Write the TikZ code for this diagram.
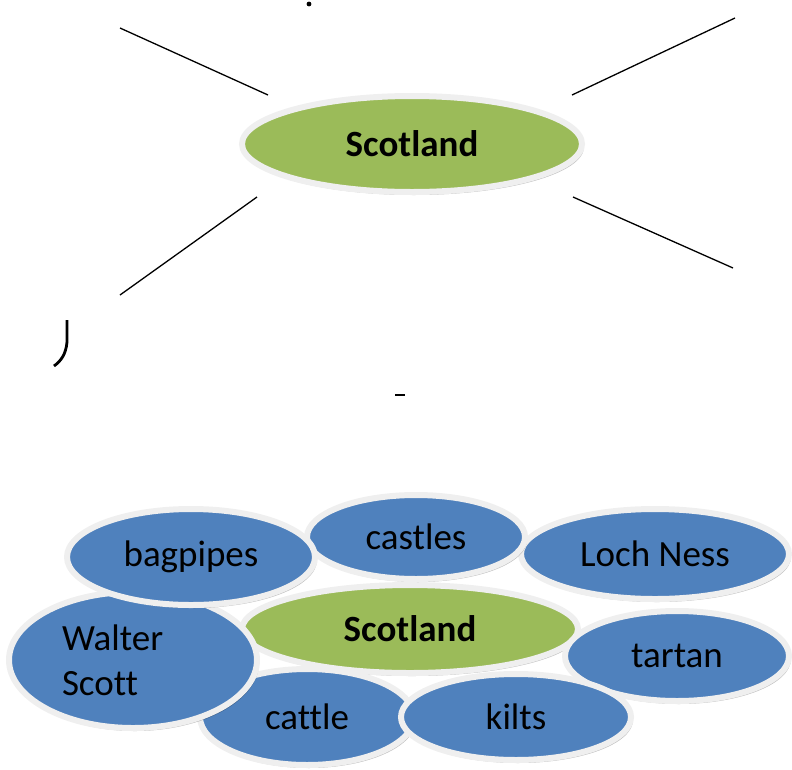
\documentclass[tikz,border=0pt]{standalone}
\usepackage{fontspec}
\setmainfont{Carlito}[Ligatures=NoCommon]
\usetikzlibrary{shapes.geometric,shadows}

\definecolor{bubbleblue}{HTML}{4F81BD}
\definecolor{bubblegreen}{HTML}{9BBB59}
\definecolor{rimgray}{HTML}{EFEFEF}

\begin{document}
\begin{tikzpicture}[x=1pt,y=-1pt,
    bubble/.style={ellipse, draw=rimgray, line width=6pt, inner sep=0pt,
        font=\fontsize{37}{45}\selectfont,
        drop shadow={shadow xshift=2pt, shadow yshift=-3pt, fill=black, opacity=0.25}},
    blue bubble/.style={bubble, fill=bubbleblue},
    green bubble/.style={bubble, fill=bubblegreen, font=\fontsize{37}{45}\selectfont\bfseries},
    spoke/.style={line width=1.3pt}]

    \useasboundingbox (0,0) rectangle (792,769);

    % upper picture
    \node[green bubble, minimum width=340pt, minimum height=96pt] (scot) at (412,144) {Scotland};
    \coordinate (tl1) at (120,28);  \coordinate (tl2) at (268,95);
    \coordinate (tr1) at (735,18);  \coordinate (tr2) at (572,95);
    \coordinate (bl1) at (120,295); \coordinate (bl2) at (257,197);
    \coordinate (br1) at (733,268); \coordinate (br2) at (573,197);
    \draw[spoke] (tl1) -- (tl2); % upper left
    \draw[spoke] (tr1) -- (tr2); % upper right
    \draw[spoke] (bl1) -- (bl2); % lower left
    \draw[spoke] (br1) -- (br2); % lower right

    % stray marks
    \fill (309,4) circle (2.4pt);
    \draw[line width=2.8pt] (67,320) -- (67,342) .. controls (66,354) and (61,361) .. (54,366);
    \draw[line width=2.2pt] (395,395) -- (405,395);

    % lower picture
    \node[green bubble, minimum width=336pt, minimum height=88pt] (center) at (410,629) {Scotland};
    \node[blue bubble, minimum width=214pt, minimum height=96pt] (cattle) at (307,717) {cattle};
    \node[blue bubble, minimum width=248pt, minimum height=136pt, text width=142pt, align=left] (walter) at (133,660) {Walter\\Scott};
    \node[blue bubble, minimum width=224pt, minimum height=90pt] (tartan) at (677,656) {tartan};
    \node[blue bubble, minimum width=268pt, minimum height=90pt] (lochness) at (655,554) {Loch Ness};
    \node[blue bubble, minimum width=218pt, minimum height=84pt] (castles) at (416,537) {castles};
    \node[blue bubble, minimum width=248pt, minimum height=96pt] (bagpipes) at (191,557) {bagpipes};
    \node[blue bubble, minimum width=230pt, minimum height=86pt] (kilts) at (516,717) {kilts};

\end{tikzpicture}
\end{document}
